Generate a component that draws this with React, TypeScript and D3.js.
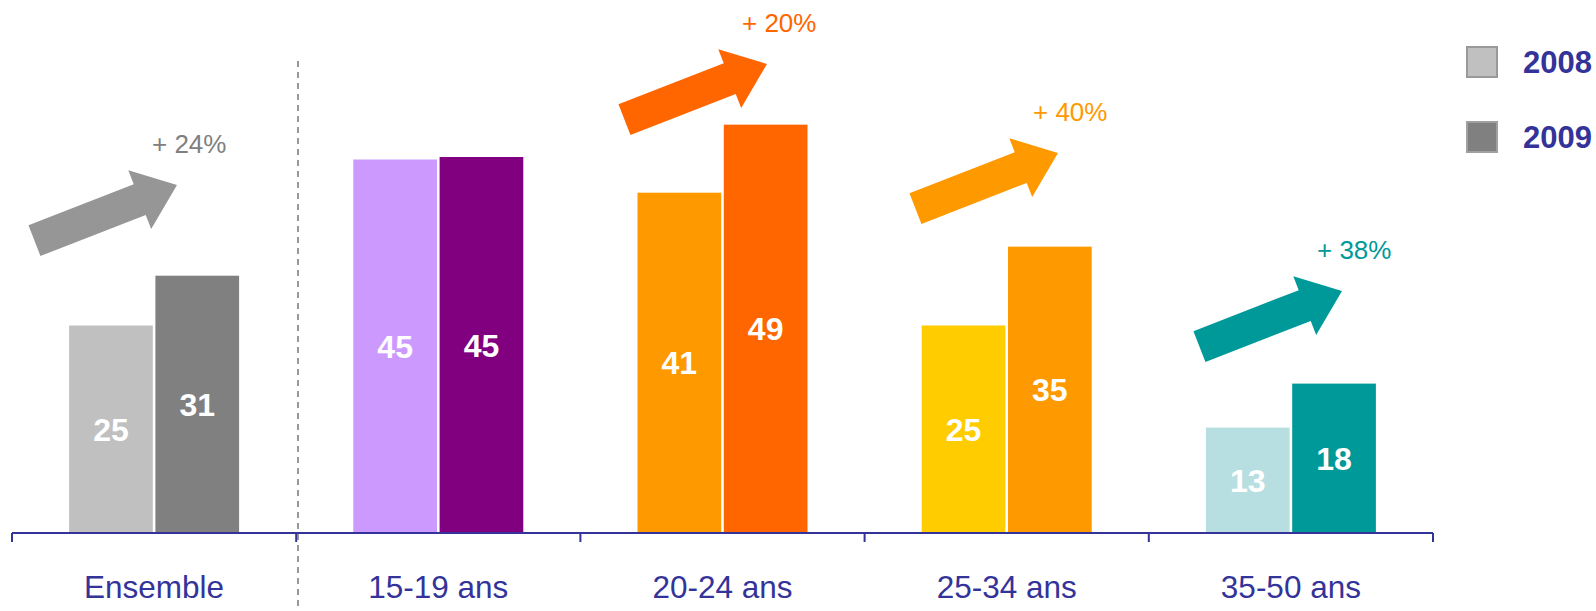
import React from "react";
import * as d3 from "d3";

const categories = ["Ensemble", "15-19 ans", "20-24 ans", "25-34 ans", "35-50 ans"];
const years = ["2008", "2009"];
const values2008 = [25, 45, 41, 25, 12.7];
const values2009 = [31, 45.3, 49.2, 34.5, 18];
const growthPct: (number | null)[] = [24, null, 20, 40, 38];

const colors2008 = ["#c0c0c0", "#cc99ff", "#ff9900", "#ffcc00", "#b7dfe2"];
const colors2009 = ["#808080", "#800080", "#ff6600", "#ff9900", "#009999"];
const arrowColors = ["#969696", "", "#ff6600", "#ff9900", "#009999"];
const pctColors = ["#808080", "", "#ff6600", "#ff9900", "#009999"];
// arrow tip positions (layout)
const arrowTips: ([number, number] | null)[] = [[177, 185], null, [767, 64], [1058, 153], [1342, 291]];

const W = 1596;
const H = 611;
const BASE = 533;
const AXIS_COLOR = "#333399";
const FONT = "'Liberation Sans', Arial, Helvetica, sans-serif";

export default function App() {
  const x = d3.scaleBand<string>().domain(categories).range([12, 1433]).paddingInner(0).paddingOuter(0);
  const y = d3.scaleLinear().domain([0, 60]).range([BASE, BASE - 60 * 8.3]);

  const ticks = categories.map((c) => x(c)!).concat([x(categories[categories.length - 1])! + x.bandwidth()]);

  // arrow shape pointing +x with tip at origin
  const L = 153, hl = 40, hw = 31.5, sw = 16.5;
  const arrowPath = d3.line()([
    [0, 0], [-hl, -hw], [-hl, -sw], [-L, -sw], [-L, sw], [-hl, sw], [-hl, hw],
  ]) + "Z";

  return (
    <div style={{ position: "fixed", left: 0, top: 0 }}>
      <svg width={W} height={H} style={{ display: "block", background: "#fff" }} fontFamily={FONT}>
        {/* dashed separator */}
        <line x1={298} x2={298} y1={61} y2={611} stroke="#999999" strokeWidth={2} strokeDasharray="6,5" />

        {categories.map((c, i) => {
          const cx = x(c)! + x.bandwidth() / 2;
          const inner = d3.scaleBand<string>().domain(years).range([cx - 85, cx + 85]).paddingInner(0.03);
          const vals = [values2008[i], values2009[i]];
          const cols = [colors2008[i], colors2009[i]];
          return (
            <g key={c}>
              {years.map((yr, j) => {
                const bx = inner(yr)!;
                const top = y(vals[j]);
                return (
                  <g key={yr}>
                    <rect x={bx} y={top} width={inner.bandwidth()} height={BASE - top} fill={cols[j]} />
                    <text x={bx + inner.bandwidth() / 2} y={(top + BASE) / 2} dy="0.36em" textAnchor="middle"
                      fill="#ffffff" fontWeight="bold" fontSize={32}>{Math.round(vals[j])}</text>
                  </g>
                );
              })}
              <text x={cx} y={598} textAnchor="middle" fill={AXIS_COLOR} fontSize={31.5}>{c}</text>
            </g>
          );
        })}

        {/* arrows */}
        {categories.map((c, i) => {
          const tip = arrowTips[i];
          const pct = growthPct[i];
          if (!tip || pct == null) return null;
          return (
            <g key={"a" + c}>
              <path d={arrowPath} fill={arrowColors[i]} transform={`translate(${tip[0]},${tip[1]}) rotate(-21.3)`} />
              <text x={tip[0] - 25} y={tip[1] - 32} fill={pctColors[i]} fontSize={26}>{`+ ${pct}%`}</text>
            </g>
          );
        })}

        {/* axis */}
        <line x1={12} x2={1433} y1={BASE} y2={BASE} stroke={AXIS_COLOR} strokeWidth={2} />
        {ticks.map((t, i) => (
          <line key={i} x1={t} x2={t} y1={BASE} y2={BASE + 9} stroke={AXIS_COLOR} strokeWidth={2} />
        ))}

        {/* legend */}
        {years.map((yr, j) => (
          <g key={yr}>
            <rect x={1467} y={47 + j * 75} width={30} height={30} fill={j === 0 ? "#c0c0c0" : "#808080"}
              stroke={j === 0 ? "#999999" : "#a0a0a0"} strokeWidth={2} />
            <text x={1523} y={73 + j * 75} fill={AXIS_COLOR} fontWeight="bold" fontSize={31}>{yr}</text>
          </g>
        ))}
      </svg>
    </div>
  );
}
